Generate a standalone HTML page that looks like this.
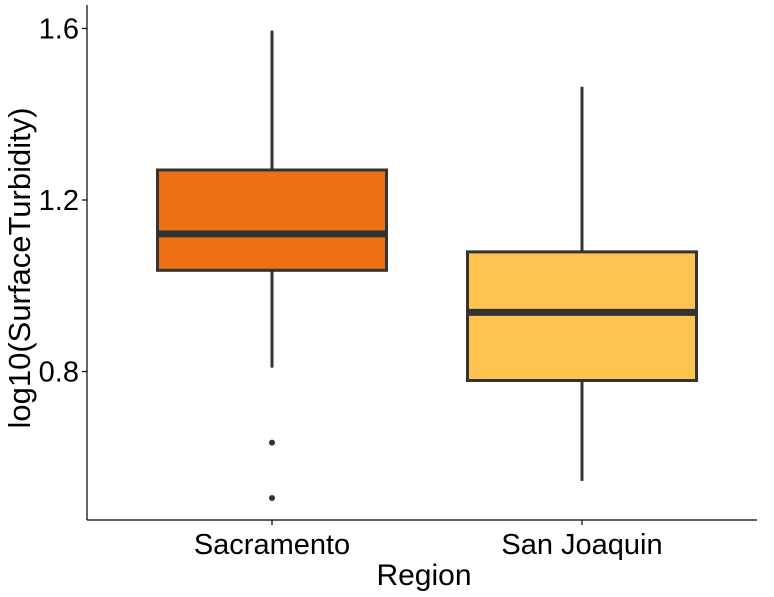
<!DOCTYPE html>
<html><head><meta charset="utf-8"><style>
html,body{margin:0;padding:0;background:#fff;}
svg{display:block;font-family:"Liberation Sans",Arial,sans-serif;}
</style></head><body>
<svg id="chart" width="774" height="597"></svg>
<script>
const categories = ["Sacramento", "San Joaquin"];
const fills = ["#EC7014", "#FEC44F"];
const whiskerLow = [0.809, 0.545];
const q1 = [1.036, 0.779];
const medians = [1.121, 0.938];
const q3 = [1.270, 1.079];
const whiskerHigh = [1.595, 1.464];
const outliers = [[0.634, 0.505], []];
const yTicks = [0.8, 1.2, 1.6];
const yTickLabels = ["0.8", "1.2", "1.6"];

const NS = "http://www.w3.org/2000/svg";
const svgEl = document.getElementById("chart");
const plotLeft = 87, plotRight = 757, plotTop = 5, plotBottom = 520;
function yScale(v){ return 200 - (v - 1.2) * 428.75; }
function xScale(i){ return 272 + i * 310; }
const boxW = 229;
function mk(tag, attrs, parent){
  const e = document.createElementNS(NS, tag);
  for (const k in attrs) e.setAttribute(k, attrs[k]);
  (parent || svgEl).appendChild(e);
  return e;
}
const yAxis = mk("line", {x1:plotLeft, y1:plotTop, x2:plotLeft, y2:plotBottom, stroke:"#000", "stroke-width":1.2});


const xAxis = mk("line", {x1:plotLeft, y1:plotBottom, x2:plotRight, y2:plotBottom, stroke:"#000", "stroke-width":1.2});



yTicks.forEach((t, i) => {
  const tk = mk("line", {x1:plotLeft-5, y1:yScale(t), x2:plotLeft, y2:yScale(t), stroke:"#000", "stroke-width":1.2});
  
  
  const lb = mk("text", {x:plotLeft-8, y:yScale(t)+10, "text-anchor":"end", "font-size":29, fill:"#000"});
  lb.textContent = yTickLabels[i];
  
  
});

categories.forEach((c, i) => {
  const cx = xScale(i);
  const g = mk("g", {});
  
  
  mk("line", {x1:cx, y1:yScale(whiskerHigh[i]), x2:cx, y2:yScale(q3[i]), stroke:"#333", "stroke-width":3}, g);
  mk("line", {x1:cx, y1:yScale(q1[i]), x2:cx, y2:yScale(whiskerLow[i]), stroke:"#333", "stroke-width":3}, g);
  mk("rect", {x:cx-boxW/2, y:yScale(q3[i]), width:boxW, height:yScale(q1[i])-yScale(q3[i]), fill:fills[i], stroke:"#333", "stroke-width":3}, g);
  mk("line", {x1:cx-boxW/2, y1:yScale(medians[i]), x2:cx+boxW/2, y2:yScale(medians[i]), stroke:"#333", "stroke-width":7}, g);
  outliers[i].forEach(o => {
    const p = mk("circle", {cx:cx, cy:yScale(o), r:3, fill:"#333"}, g);
    
    
  });
  const tk = mk("line", {x1:cx, y1:plotBottom, x2:cx, y2:plotBottom+5, stroke:"#000", "stroke-width":1.2});
  
  
  const lb = mk("text", {x:cx, y:554, "text-anchor":"middle", "font-size":29, fill:"#000"});
  lb.textContent = c;
  
  
});

const xt = mk("text", {x:424, y:585, "text-anchor":"middle", "font-size":30, fill:"#000"});
xt.textContent = "Region";


const yt = mk("text", {x:0, y:0, transform:"translate(30,268) rotate(-90)", "text-anchor":"middle", "font-size":31, fill:"#000"});
yt.textContent = "log10(SurfaceTurbidity)";


</script>
</body></html>
